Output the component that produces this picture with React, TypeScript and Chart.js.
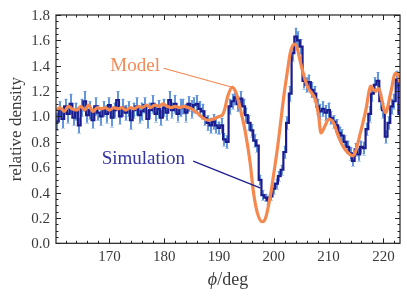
import { useEffect, useRef } from "react";
import { Chart, registerables } from "chart.js";

Chart.register(...registerables);

// ---- data ----
const BIN_START = 160.25;
const BIN_WIDTH = 0.5;
const SIM_VALUES = [
  0.96, 1.06, 0.98, 1.08, 1.02, 1.10, 0.99, 1.04, 0.93, 1.07,
  1.12, 1.01, 1.05, 0.97, 1.08, 1.03, 1.00, 1.06, 1.02, 1.09,
  0.99, 1.05, 1.13, 1.00, 1.07, 1.03, 1.06, 0.97, 1.05, 1.08,
  1.01, 1.04, 1.09, 0.98, 1.05, 1.10, 1.02, 1.06, 0.99, 1.07,
  1.03, 1.13, 1.05, 1.10, 1.02, 1.07, 1.08, 1.03, 1.10, 1.06,
  1.09, 1.10, 1.06, 1.04, 0.99, 0.95, 0.93, 0.96, 0.93, 0.91, 0.93,
  0.82, 0.80, 1.08, 1.12, 1.15, 1.10, 1.14, 1.08, 1.01, 0.95, 0.89, 0.81,
  0.77, 0.50, 0.38, 0.36, 0.34, 0.37, 0.43, 0.47, 0.53, 0.58, 0.72, 0.95,
  1.18, 1.50, 1.63, 1.60, 1.55, 1.28, 1.25, 1.27, 1.21, 1.18, 1.08, 1.04,
  1.06, 1.03, 1.05, 0.99, 0.96, 0.93, 0.87, 0.85, 0.80, 0.76, 0.71, 0.65,
  0.74, 0.70, 0.76, 0.75, 0.90, 1.02, 1.18, 1.25, 1.28, 1.12, 1.05, 0.84,
  0.95, 1.08, 1.12, 1.29, 1.02,
];
const SIM_ERRORS = [
  0.07, 0.06, 0.07, 0.06, 0.07, 0.08, 0.06, 0.07, 0.06, 0.07,
  0.08, 0.06, 0.07, 0.06, 0.07, 0.06, 0.07, 0.06, 0.07, 0.06,
  0.07, 0.06, 0.07, 0.06, 0.07, 0.06, 0.06, 0.07, 0.06, 0.07,
  0.06, 0.07, 0.06, 0.07, 0.06, 0.07, 0.06, 0.07, 0.06, 0.07,
  0.06, 0.07, 0.06, 0.07, 0.06, 0.07, 0.06, 0.07, 0.06, 0.07,
  0.06, 0.07, 0.06, 0.06, 0.06, 0.06, 0.06, 0.06, 0.06, 0.05, 0.06,
  0.05, 0.05, 0.06, 0.06, 0.06, 0.06, 0.06, 0.06, 0.06, 0.06, 0.05, 0.05,
  0.05, 0.04, 0.04, 0.03, 0.03, 0.03, 0.04, 0.04, 0.04, 0.04, 0.05, 0.05,
  0.06, 0.06, 0.07, 0.07, 0.06, 0.06, 0.06, 0.06, 0.06, 0.06, 0.06, 0.06,
  0.06, 0.06, 0.06, 0.05, 0.05, 0.05, 0.05, 0.05, 0.05, 0.05, 0.05, 0.04,
  0.05, 0.05, 0.05, 0.05, 0.05, 0.06, 0.06, 0.06, 0.07, 0.06, 0.06, 0.05,
  0.05, 0.06, 0.06, 0.07, 0.06,
];

const MODEL_X = [
  160.3, 161.0, 161.8, 162.5, 163.2, 164.0, 164.8, 165.5, 166.2, 167.0,
  167.8, 168.5, 169.3, 170.0, 170.8, 171.5, 172.3, 173.0, 173.8, 174.5,
  175.3, 176.0, 176.8, 177.5, 178.3, 179.0, 179.8, 180.5, 181.3, 182.0,
  182.8, 183.5, 184.3, 185.0, 186.0, 187.0, 188.0, 189.0, 190.0, 190.6,
  191.0, 191.6, 192.4, 193.0, 193.5, 194.2, 194.8, 195.7, 196.3, 197.0,
  197.9, 198.5, 199.4, 200.0, 200.7, 201.3, 201.8, 202.5, 203.0, 203.7,
  204.2, 204.9, 205.5, 206.2, 207.0, 207.6, 208.2, 208.6, 209.4, 210.0,
  210.9, 211.8, 212.7, 213.6, 214.4, 214.9, 215.8, 216.8, 217.7, 218.2,
  218.6, 219.1, 220.4, 221.3, 222.2, 222.6, 223.0,
];
const MODEL_Y = [
  1.05, 1.07, 1.04, 1.08, 1.06, 1.05, 1.08, 1.05, 1.09, 1.04,
  1.07, 1.06, 1.07, 1.05, 1.07, 1.06, 1.07, 1.05, 1.07, 1.06,
  1.08, 1.07, 1.09, 1.07, 1.09, 1.08, 1.10, 1.08, 1.07, 1.08,
  1.07, 1.08, 1.07, 1.06, 1.03, 0.99, 0.97, 0.98, 1.00, 1.01,
  1.05, 1.16, 1.23, 1.20, 1.13, 1.00, 0.88, 0.63, 0.40, 0.24,
  0.17, 0.20, 0.38, 0.55, 0.76, 0.97, 1.15, 1.36, 1.50, 1.57,
  1.55, 1.42, 1.32, 1.23, 1.18, 1.13, 1.00, 0.87, 0.93, 0.98,
  0.95, 0.84, 0.76, 0.71, 0.69, 0.72, 0.87, 1.05, 1.24, 1.21,
  1.20, 1.22, 1.03, 1.18, 1.34, 1.33, 1.27,
];

const X_TICKS = [170, 180, 190, 200, 210, 220];
const Y_TICKS = [0.0, 0.2, 0.4, 0.6, 0.8, 1.0, 1.2, 1.4, 1.6, 1.8];
const X_MINOR_STEP = 2;
const Y_MINOR_STEP = 0.05;
const X_MIN = 160.26;
const X_MAX = 223.03;
const Y_MIN = 0;
const Y_MAX = 1.8;

// annotation placement (data coordinates)
const MODEL_LABEL = { text: "Model", x: 174.7, y: 1.395, lineFrom: [179.9, 1.38], lineTo: [192.4, 1.23] };
const SIM_LABEL = { text: "Simulation", x: 176.2, y: 0.665, lineFrom: [185.3, 0.648], lineTo: [197.6, 0.435] };

// ---- styles ----
const C_SIM = "#1c1c8e";
const C_ERR = "#6496dc";
const C_MODEL = "#f5884f";
const C_MODEL_TXT = "#f28a55";
const C_SIM_TXT = "#3333a3";
const C_TEXT = "#3a3a3a";
const C_AXIS = "#222222";
const SERIF = '"Liberation Serif", "DejaVu Serif", serif';

const decorPlugin = {
  id: "decor",
  beforeDatasetsDraw(chart: any) {
    const { ctx, chartArea, scales } = chart;
    const xs = scales.x, ys = scales.y;
    ctx.save();
    ctx.beginPath();
    ctx.rect(chartArea.left, chartArea.top, chartArea.right - chartArea.left, chartArea.bottom - chartArea.top);
    ctx.clip();
    ctx.strokeStyle = C_ERR;
    ctx.lineWidth = 2;
    SIM_VALUES.forEach((v, i) => {
      const cx = BIN_START + BIN_WIDTH * (i + 0.5);
      const e = SIM_ERRORS[i];
      const px = Math.round(xs.getPixelForValue(cx));
      const y1 = ys.getPixelForValue(v - e);
      const y2 = ys.getPixelForValue(v + e);
      ctx.beginPath();
      ctx.moveTo(px, y1);
      ctx.lineTo(px, y2);
      ctx.stroke();
    });
    ctx.globalAlpha = 0.45;
    ctx.lineWidth = 1;
    SIM_VALUES.forEach((v, i) => {
      const cx = BIN_START + BIN_WIDTH * (i + 0.5);
      const e = SIM_ERRORS[i];
      const px = Math.round(xs.getPixelForValue(cx));
      [v - e, v + e].forEach((yy) => {
        const py = Math.round(ys.getPixelForValue(yy)) + 0.5;
        ctx.beginPath();
        ctx.moveTo(px - 2, py);
        ctx.lineTo(px + 2, py);
        ctx.stroke();
      });
    });
    ctx.restore();
  },
  afterDraw(chart: any) {
    const { ctx, chartArea, scales } = chart;
    const xs = scales.x, ys = scales.y;
    const L = chartArea.left, R = chartArea.right, T = chartArea.top, B = chartArea.bottom;
    ctx.save();
    const drawAnno = (a: any, color: string, lineColor: string, lw: number) => {
      ctx.strokeStyle = lineColor;
      ctx.lineWidth = lw;
      ctx.beginPath();
      ctx.moveTo(xs.getPixelForValue(a.lineFrom[0]), ys.getPixelForValue(a.lineFrom[1]));
      ctx.lineTo(xs.getPixelForValue(a.lineTo[0]), ys.getPixelForValue(a.lineTo[1]));
      ctx.stroke();
      ctx.fillStyle = color;
      ctx.font = `19px ${SERIF}`;
      ctx.textAlign = "center";
      ctx.textBaseline = "middle";
      ctx.fillText(a.text, xs.getPixelForValue(a.x), ys.getPixelForValue(a.y));
    };
    drawAnno(MODEL_LABEL, C_MODEL_TXT, C_MODEL, 1.2);
    drawAnno(SIM_LABEL, C_SIM_TXT, C_SIM, 1.2);

    ctx.strokeStyle = C_AXIS;
    ctx.lineWidth = 1.2;
    ctx.strokeRect(L, T, R - L, B - T);
    ctx.lineWidth = 1;
    const major = 5, minor = 2.5;
    const tickX = (v: number, len: number) => {
      const px = Math.round(xs.getPixelForValue(v)) + 0.5;
      ctx.beginPath();
      ctx.moveTo(px, B); ctx.lineTo(px, B - len);
      ctx.moveTo(px, T); ctx.lineTo(px, T + len);
      ctx.stroke();
    };
    const tickY = (v: number, len: number) => {
      const py = Math.round(ys.getPixelForValue(v)) + 0.5;
      ctx.beginPath();
      ctx.moveTo(L, py); ctx.lineTo(L + len, py);
      ctx.moveTo(R, py); ctx.lineTo(R - len, py);
      ctx.stroke();
    };
    for (let v = Math.ceil(X_MIN / X_MINOR_STEP) * X_MINOR_STEP; v <= X_MAX; v += X_MINOR_STEP) {
      if (!X_TICKS.includes(v)) tickX(v, minor);
    }
    X_TICKS.forEach((v) => tickX(v, major));
    for (let k = 0; k * Y_MINOR_STEP <= Y_MAX + 1e-9; k++) {
      const v = k * Y_MINOR_STEP;
      const isMajor = Y_TICKS.some((t) => Math.abs(t - v) < 1e-6);
      if (!isMajor) tickY(v, minor);
    }
    Y_TICKS.forEach((v) => tickY(v, major));

    ctx.fillStyle = C_TEXT;
    ctx.font = `15px ${SERIF}`;
    ctx.textAlign = "right";
    ctx.textBaseline = "middle";
    Y_TICKS.forEach((v) => ctx.fillText(v.toFixed(1), L - 6, ys.getPixelForValue(v) + 1));
    ctx.textAlign = "center";
    X_TICKS.forEach((v) => ctx.fillText(String(v), xs.getPixelForValue(v), B + 14));

    ctx.font = `17px ${SERIF}`;
    ctx.save();
    ctx.translate(17, (T + B) / 2);
    ctx.rotate(-Math.PI / 2);
    ctx.textAlign = "center";
    ctx.fillText("relative density", 0, 0);
    ctx.restore();

    const cx = (L + R) / 2;
    const phi = "\u03D5";
    const rest = "/deg";
    ctx.font = `italic 18px ${SERIF}`;
    const w1 = ctx.measureText(phi).width;
    ctx.font = `18px ${SERIF}`;
    const w2 = ctx.measureText(rest).width;
    const start = cx - (w1 + w2) / 2;
    ctx.textAlign = "left";
    ctx.font = `italic 18px ${SERIF}`;
    ctx.fillText(phi, start, B + 37);
    ctx.font = `18px ${SERIF}`;
    ctx.fillText(rest, start + w1, B + 37);
    ctx.restore();
  },
};

export default function App() {
  const ref = useRef<HTMLCanvasElement | null>(null);
  useEffect(() => {
    if (!ref.current) return;
    const simPts = SIM_VALUES.map((v, i) => ({ x: BIN_START + BIN_WIDTH * (i + 0.5), y: v }));
    const simData = [
      { x: BIN_START, y: SIM_VALUES[0] },
      ...simPts,
      { x: BIN_START + BIN_WIDTH * SIM_VALUES.length, y: SIM_VALUES[SIM_VALUES.length - 1] },
    ];
    const modelData = MODEL_X.map((x, i) => ({ x, y: MODEL_Y[i] }));
    const chart = new Chart(ref.current, {
      type: "line",
      data: {
        datasets: [
          {
            label: "Model",
            data: modelData,
            borderColor: C_MODEL,
            borderWidth: 3.2,
            pointRadius: 0,
            cubicInterpolationMode: "monotone",
            fill: false,
          },
          {
            label: "Simulation",
            data: simData,
            borderColor: C_SIM,
            borderWidth: 2.2,
            pointRadius: 0,
            stepped: "middle",
            fill: false,
          },
        ],
      },
      options: {
        responsive: false,
        animation: false,
        devicePixelRatio: 1,
        layout: { padding: { top: 15, right: 7, left: 0, bottom: 0 } },
        plugins: { legend: { display: false }, tooltip: { enabled: false } },
        scales: {
          x: {
            type: "linear",
            min: X_MIN,
            max: X_MAX,
            grid: { display: false, drawTicks: false },
            border: { display: false },
            ticks: { display: false },
            afterFit: (s: any) => { s.height = 52.7; },
          },
          y: {
            type: "linear",
            min: Y_MIN,
            max: Y_MAX,
            grid: { display: false, drawTicks: false },
            border: { display: false },
            ticks: { display: false },
            afterFit: (s: any) => { s.width = 56; },
          },
        },
      },
      plugins: [decorPlugin],
    } as any);
    return () => chart.destroy();
  }, []);
  return (
    <div style={{ position: "fixed", left: 0, top: 0, width: 407, height: 296, background: "#fff" }}>
      <canvas ref={ref} width={407} height={296} style={{ width: 407, height: 296 }} />
    </div>
  );
}
